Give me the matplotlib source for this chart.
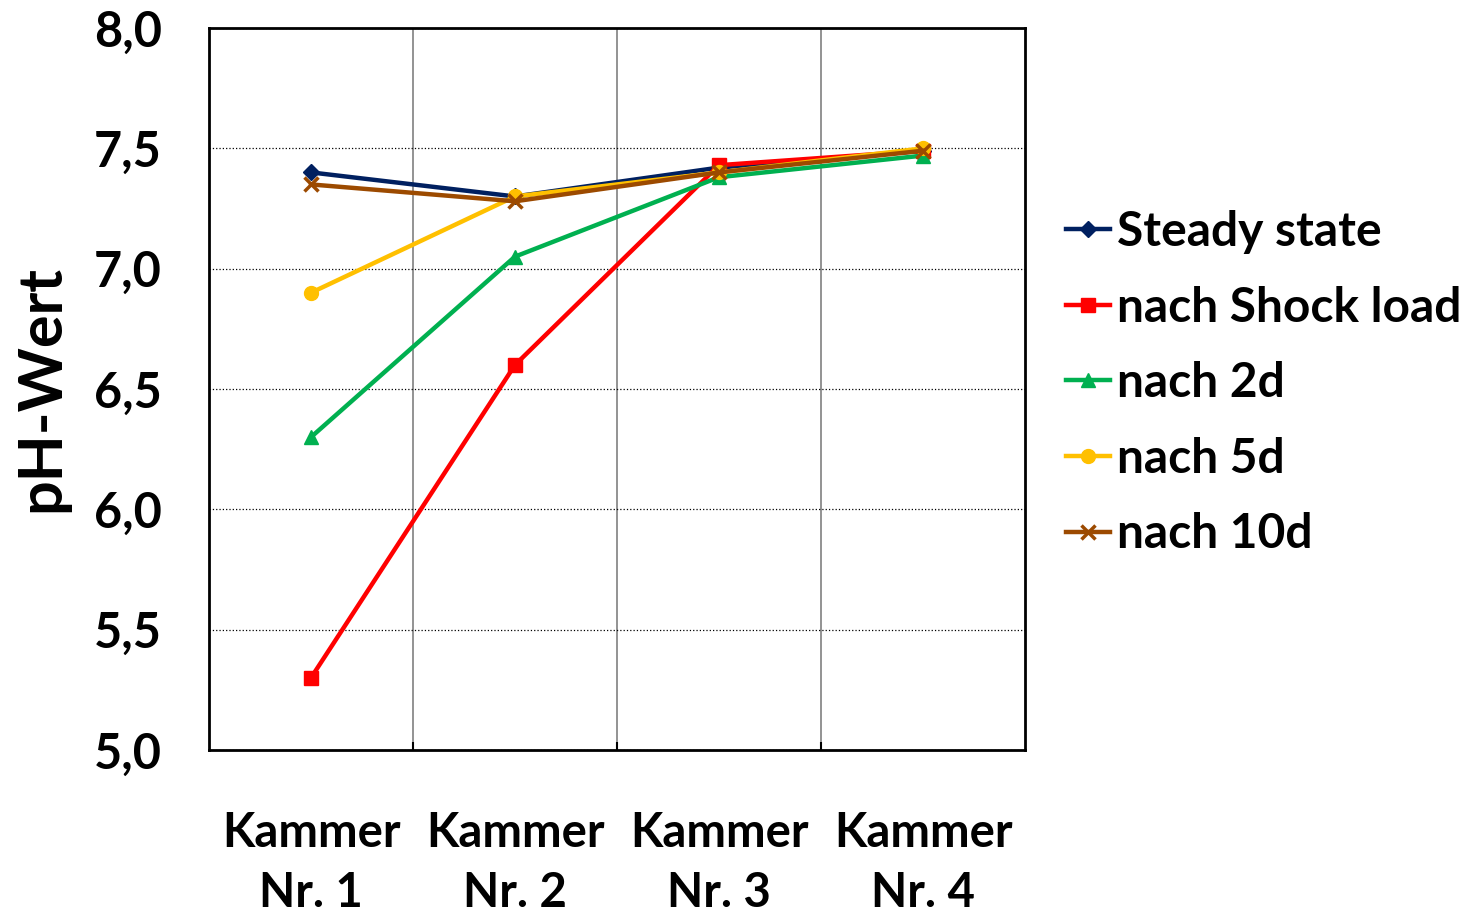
import numpy as np
import matplotlib.pyplot as plt
from matplotlib.ticker import FixedLocator

plt.rcParams['font.family'] = ['Lato', 'DejaVu Sans']
plt.rcParams['font.weight'] = 'bold'

kammern = ['Kammer\nNr. 1', 'Kammer\nNr. 2', 'Kammer\nNr. 3', 'Kammer\nNr. 4']
steady_state = [7.40, 7.30, 7.42, 7.49]
shock_load = [5.30, 6.60, 7.43, 7.49]
nach_2d = [6.30, 7.05, 7.38, 7.47]
nach_5d = [6.90, 7.30, 7.40, 7.50]
nach_10d = [7.35, 7.28, 7.40, 7.49]

series = [
    ('Steady state', steady_state, '#002060', 'D', 8),
    ('nach Shock load', shock_load, '#ff0000', 's', 10),
    ('nach 2d', nach_2d, '#00b050', '^', 10),
    ('nach 5d', nach_5d, '#ffc000', 'o', 10),
    ('nach 10d', nach_10d, '#9c4a00', 'x', 10),
]

fig = plt.figure(figsize=(14.72, 9.17), dpi=100)
ax = fig.add_axes([209 / 1472, 1 - 750 / 917, 816 / 1472, 722 / 917])

x = np.arange(len(kammern))
for label, vals, col, mk, ms in series:
    ax.plot(x, vals, color=col, lw=3.2, marker=mk, markersize=ms,
            markeredgewidth=2.5 if mk == 'x' else 1, markeredgecolor=col,
            label=label)

ax.set_xlim(-0.5, 3.5)
ax.set_ylim(5.0, 8.0)
ax.set_yticks(np.arange(5.0, 8.01, 0.5))
ax.set_yticklabels([f'{v:.1f}'.replace('.', ',') for v in np.arange(5.0, 8.01, 0.5)])
ax.set_xticks(x)
ax.set_xticklabels(kammern)
ax.xaxis.set_minor_locator(FixedLocator([0.5, 1.5, 2.5]))

ax.grid(axis='y', color='black', linestyle=':', linewidth=0.9)
ax.grid(axis='x', which='minor', color='#808080', linestyle='-', linewidth=1.2)
ax.set_axisbelow(True)

ax.tick_params(axis='y', length=0, pad=34, labelsize=35)
ax.tick_params(axis='x', which='major', length=0, pad=44, labelsize=34)
ax.tick_params(axis='x', which='minor', direction='in', length=6, width=1.5)
for lbl in ax.get_xticklabels():
    lbl.set_linespacing(1.45)

for s in ax.spines.values():
    s.set_linewidth(2)

ax.set_ylabel('pH-Wert', fontsize=44, fontweight='bold', labelpad=18)

ax.legend(loc='center left', bbox_to_anchor=(1.05, 0.508), frameon=False,
          fontsize=34.5, handlelength=0.92, handletextpad=0.15, labelspacing=0.66,
          borderaxespad=0, borderpad=0)

fig.savefig('out.png', dpi=100)
